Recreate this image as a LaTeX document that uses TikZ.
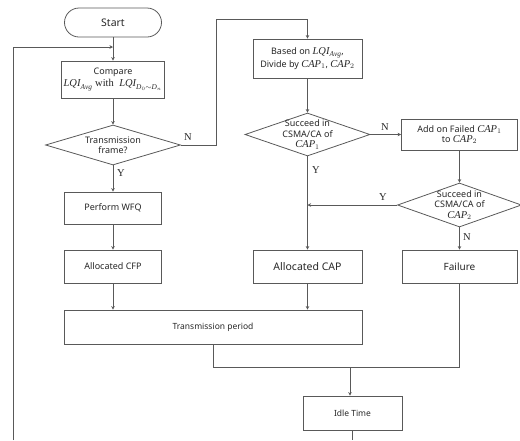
\documentclass[tikz,border=0pt]{standalone}
\usepackage{fontspec}
\setmainfont{Noto Sans}
\setmathrm{Liberation Serif}
\newfontfamily\ynfont{Liberation Serif}
\usetikzlibrary{shapes.geometric,arrows.meta}
\newcommand\mbig[1]{{\fontsize{10.5}{12}\selectfont$#1$}}
\begin{document}
\begin{tikzpicture}[x=1pt,y=-1pt,
  line width=0.8pt,
  every node/.style={text=black!85},
  box/.style={draw=black!65, rectangle, inner sep=2pt, align=center, font=\fontsize{9}{11}\selectfont},
  dia/.style={draw=black!65, diamond, inner sep=0pt},
  dtext/.style={align=center, font=\fontsize{9}{10.5}\selectfont, inner sep=0pt},
  conn/.style={draw=black!65, line width=0.8pt},
  arr/.style={conn, -{Stealth[length=3.5pt,width=3.5pt]}},
  yn/.style={font=\ynfont\fontsize{10.5}{12}\selectfont, inner sep=0pt}
]
\useasboundingbox (0,0) rectangle (520,440);

% left column
\node[box, rounded corners=14.5pt, minimum width=97pt, minimum height=29pt, font=\fontsize{10.5}{12}\selectfont] (start) at (113,22.5) {Start};
\node[box, minimum width=97pt, minimum height=37pt] (compare) at (113,79.5) {Compare\\[1pt]\mbig{\mathit{LQI}_{\mathit{Avg}}\ \mathrm{with}\ \ \mathit{LQI}_{\mathit{D}_0\sim \mathit{D}_n}}};
\node[dia, minimum width=135pt, minimum height=40pt] (trans) at (113,145) {};
\node[dtext] (transt) at (trans.center) {Transmission\\frame?};
\node[box, minimum width=97pt, minimum height=32pt] (wfq) at (113,208) {Perform WFQ};
\node[box, minimum width=97pt, minimum height=33pt] (cfp) at (113,266.5) {Allocated CFP};
\node[box, minimum width=298pt, minimum height=34pt, font=\fontsize{8.5}{10}\selectfont] (tp) at (213,327) {Transmission period};

% middle column
\node[box, minimum width=109pt, minimum height=39pt] (based) at (307.5,58.5) {Based on \mbig{\mathit{LQI}_{\mathit{Avg}}},\\[1.5pt]Divide by \mbig{\mathit{CAP}_1}, \mbig{\mathit{CAP}_2}};
\node[dia, minimum width=125pt, minimum height=43pt] (d1) at (307.5,134.5) {};
\node[dtext] (d1t) at (d1.center) {Succeed in\\CSMA/CA of\\\mbig{\mathit{CAP}_1}};
\node[box, minimum width=109pt, minimum height=33pt, font=\fontsize{10.5}{12}\selectfont] (cap) at (307.5,266.5) {Allocated CAP};

% right column
\node[box, minimum width=116pt, minimum height=31pt] (add) at (459.5,134.5) {Add on Failed \mbig{\mathit{CAP}_1}\\[-1pt]to \mbig{\mathit{CAP}_2}};
\node[dia, minimum width=124pt, minimum height=44pt] (d2) at (459.5,205) {};
\node[dtext] (d2t) at (d2.center) {Succeed in\\CSMA/CA of\\\mbig{\mathit{CAP}_2}};
\node[box, minimum width=115pt, minimum height=33pt, font=\fontsize{10}{12}\selectfont] (fail) at (459.5,266.5) {Failure};

% bottom
\node[box, minimum width=99pt, minimum height=34pt, font=\fontsize{8.5}{10}\selectfont] (idle) at (352.5,413) {Idle Time};

% coordinates
\coordinate (j0) at (113,47);
\coordinate (loopb) at (13,440);
\coordinate (idleb) at (352.5,440);
\coordinate (nup) at (216,19);
\coordinate (ymerge) at (307.5,205);
\coordinate (tpd) at (213,367);
\coordinate (jm) at (350,367);

% connectors
\draw[arr] (start.south) -- (compare.north);
\draw[arr] (loopb) |- (j0);
\draw[arr] (compare.south) -- (trans.north);
\draw[arr] (trans.south) -- (wfq.north);
\draw[arr] (wfq.south) -- (cfp.north);
\draw[arr] (cfp.south) -- (cfp.south |- tp.north);
\draw[arr] (trans.east) -| (nup) -| (based.north);
\draw[arr] (based.south) -- (d1.north);
\draw[arr] (d1.east) -- (add.west);
\draw[arr] (d1.south) -- (cap.north);
\draw[arr] (add.south) -- (d2.north);
\draw[arr] (d2.west) -- (ymerge);
\draw[arr] (d2.south) -- (fail.north);
\draw[arr] (cap.south) -- (cap.south |- tp.north);
\draw[conn] (tp.south -| tpd) -- (tpd) -- (tpd -| fail.south) -- (fail.south);
\draw[arr] (jm) -- (jm |- idle.north);
\draw[conn] (idle.south) -- (idleb);

% labels
\node[yn] (n1) at (188,137) {N};
\node[yn] (y1) at (121,173) {Y};
\node[yn] (n2) at (385,127) {N};
\node[yn] (y2) at (316,170) {Y};
\node[yn] (y3) at (383,197) {Y};
\node[yn] (n3) at (467,237) {N};
\end{tikzpicture}
\end{document}
